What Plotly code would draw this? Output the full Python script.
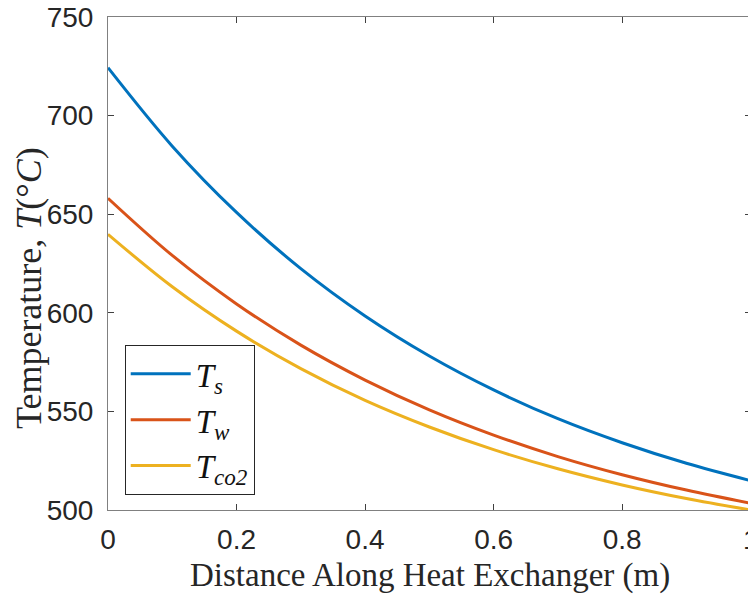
import plotly.graph_objects as go

# Distance along heat exchanger (m)
distance = [0.0, 0.1, 0.2, 0.3, 0.4, 0.5, 0.6, 0.7, 0.8, 0.9, 1.0]
# Temperatures (deg C)
T_s = [724.3, 684.5, 650.9, 622.4, 598.4, 578.1, 560.9, 546.3, 534.1, 523.7, 514.9]
T_w = [658.1, 629.1, 604.5, 583.6, 565.9, 550.8, 538.0, 527.1, 517.9, 510.1, 503.4]
T_co2 = [639.8, 613.2, 590.7, 571.7, 555.6, 542.1, 530.6, 520.9, 512.7, 505.8, 500.0]

series_names = ["<i>T<sub>s</sub></i>", "<i>T<sub>w</sub></i>", "<i>T<sub>co2</sub></i>"]
colors = ["#0072BD", "#D95319", "#EDB120"]

x_ticks = [0, 0.2, 0.4, 0.6, 0.8, 1]
x_tick_labels = ["0", "0.2", "0.4", "0.6", "0.8", "1"]
y_ticks = [500, 550, 600, 650, 700, 750]

x_title = "Distance Along Heat Exchanger (m)"
y_title = "Temperature, <i>T</i>(°<i>C</i>)"

serif = "Liberation Serif, Times New Roman, serif"

fig = go.Figure()
for name, vals, c in zip(series_names, [T_s, T_w, T_co2], colors):
    fig.add_trace(go.Scatter(x=distance, y=vals, mode="lines", name=name, cliponaxis=True,
                             line=dict(color=c, width=3, shape="spline", smoothing=1.0)))

axis_common = dict(showline=True, linecolor="#808080", linewidth=1, mirror="ticks",
                   ticks="inside", ticklen=6, tickcolor="#404040", tickwidth=1,
                   showgrid=False, zeroline=False, automargin=False,
                   ticklabeloverflow="allow",
                   tickfont=dict(family="Liberation Sans, Arial", size=28, color="#262626"))

fig.update_layout(
    width=748, height=586,
    margin=dict(l=100, r=5, t=9, b=84),
    paper_bgcolor="white", plot_bgcolor="white",
    showlegend=True,
    legend=dict(x=0.026, y=0.335, xanchor="left", yanchor="top",
                bgcolor="white", bordercolor="#262626", borderwidth=1,
                font=dict(family=serif, size=33, color="#111"),
                itemwidth=60, tracegroupgap=0),
    xaxis=dict(range=[0, 1.0005], tickvals=x_ticks, ticktext=x_tick_labels,
               ticklabelstandoff=4, **axis_common),
    yaxis=dict(range=[500, 750], tickvals=y_ticks, ticklabelstandoff=8, **axis_common),
    annotations=[
        dict(text=x_title, xref="paper", yref="paper", x=0.5, y=-0.132,
             xanchor="center", yanchor="middle", showarrow=False,
             font=dict(family=serif, size=33, color="#262626")),
        dict(text=y_title, xref="paper", yref="paper", x=-0.123, y=0.45,
             xanchor="center", yanchor="middle", showarrow=False, textangle=-90,
             font=dict(family=serif, size=36, color="#262626")),
    ],
)

fig.write_html("out.html")
